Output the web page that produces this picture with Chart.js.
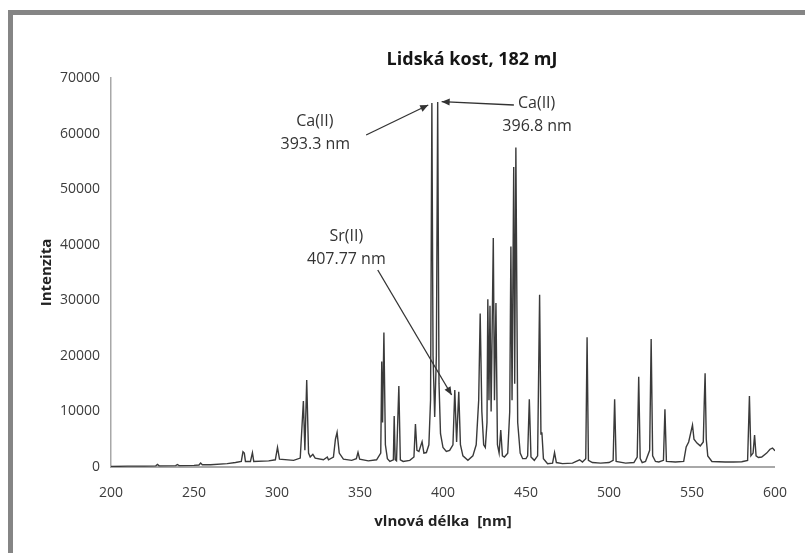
<!DOCTYPE html>
<html><head><meta charset="utf-8">
<script src="https://cdn.jsdelivr.net/npm/chart.js@4.4.1/dist/chart.umd.min.js"></script>
<style>
html,body{margin:0;padding:0;background:#fff;overflow:hidden;}
#wrap{position:relative;width:805px;height:553px;}
#frame{position:absolute;left:8px;top:10px;right:0;bottom:0;border-left:5px solid #858585;border-top:5px solid #858585;pointer-events:none;}
canvas{position:absolute;left:0;top:0;}
</style></head><body>
<div id="wrap"><canvas id="c" width="805" height="553"></canvas><div id="frame"></div></div>
<script>
// ---- data ----
const chartTitle = 'Lidská kost, 182 mJ';
const xTitle = 'vlnová délka  [nm]';
const yTitle = 'Intenzita';
const xTicks = [200, 250, 300, 350, 400, 450, 500, 550, 600];
const yTicks = [0, 10000, 20000, 30000, 40000, 50000, 60000, 70000];

const wavelengths = [
  200, 210, 220, 227, 228, 229, 239, 240, 241, 250, 253, 254, 255, 260, 270, 275, 278.5,
  279.5, 280.3, 281, 284, 285.2, 286, 295, 299, 300.3, 301.5, 310, 314, 315.9, 316.8,
  317.9, 319, 320, 321.6, 323, 328, 330.3, 331, 334, 335.2, 336.2, 337.5, 340, 345, 347.8,
  348.8, 349.8, 355, 360, 362.5, 363.1, 363.6, 364.4, 365.3, 366.5, 368, 370.1, 370.6, 371.2,
  372, 373.4, 374.3, 376, 380, 382.5, 383.4, 384.3, 385.5, 387.4, 388.5, 390, 391.5, 392.5,
  393.3, 394.0, 395.0, 396.0, 396.8, 397.6, 398.5, 400, 402, 404, 406, 407.1, 408.2, 409.5,
  410.5, 412, 415, 418, 420, 421.5, 422.4, 423.4, 424.5, 425.5, 426.5, 427.0, 427.7, 428.3,
  429.0, 430.3, 431.0, 431.9, 432.8, 433.8, 434.8, 435.8, 437, 439, 440.2, 440.9, 441.6,
  442.6, 443.2, 443.9, 445, 446.5, 448, 450, 451, 452.0, 453, 455, 457, 458.2, 459, 459.6,
  460.5, 463, 466, 467.2, 468.3, 472, 478, 482.3, 484, 486, 486.8, 487.6, 490, 495, 500,
  502.5, 503.4, 504.3, 510, 515, 517, 517.9, 518.8, 520, 522, 524.5, 525.4, 526.3, 528, 530,
  532.8, 533.7, 534.6, 540, 545, 546.5, 548, 549.5, 550.3, 551.2, 553, 555, 556.8, 557.4,
  557.9, 558.6, 559.5, 562, 570, 575, 580, 583.5, 584.6, 585.5, 586.8, 587.7, 588.6, 590,
  592, 595, 597, 598.5, 600
];
const intensities = [
  100, 150, 150, 200, 450, 200, 250, 450, 250, 300, 350, 700, 400, 400, 600, 800, 1000,
  2750, 2500, 1000, 1000, 2570, 1000, 1100, 1300, 3540, 1400, 1200, 1600, 11870, 3000,
  15650, 2500, 1800, 2280, 1600, 1300, 1800, 1300, 1800, 5000, 6240, 2500, 1400, 1200, 1500,
  2650, 1400, 1100, 1300, 2500, 19000, 8000, 24200, 4000, 1500, 1000, 1300, 9180, 1300,
  1100, 14580, 1300, 1000, 1200, 1800, 7740, 3000, 2800, 4560, 2500, 2600, 4000, 12000,
  65500, 20000, 9000, 20000, 65700, 15000, 6000, 3500, 2800, 3000, 4000, 13860, 4500, 13550,
  4000, 2000, 1200, 2000, 4000, 12000, 27600, 10000, 4000, 3500, 8000, 30200, 12000, 29000,
  10000, 41200, 12000, 29500, 4000, 2500, 6650, 2000, 1800, 2500, 10000, 39700, 12000,
  54000, 15000, 57500, 8000, 2500, 1500, 1500, 2000, 12180, 1800, 1200, 2000, 31000, 6000, 6060,
  1500, 600, 700, 2580, 800, 600, 700, 1300, 900, 1500, 23340, 1200, 800, 700, 800,
  1200, 12180, 1000, 700, 800, 1800, 16250, 1500, 800, 1000, 3000, 23030, 2000, 1000, 900,
  1200, 10380, 1000, 900, 1000, 3600, 4500, 6500, 7560, 5000, 4300, 3800, 4500, 11750,
  16860, 5000, 2000, 1000, 900, 900, 950, 1200, 12780, 2000, 2500, 5760, 2000, 1700,
  1800, 2500, 3200, 3400, 2900
];

// annotations: text anchors and arrows in data coordinates
const annotations = [
  { texts: [['Ca(II)', 322.8, 62260], ['393.3 nm', 323.1, 58125]], from: [353.7, 59745], to: [391.1, 65140] },
  { texts: [['Ca(II)', 456.4, 65500], ['396.8 nm', 456.7, 61360]], from: [442.7, 65140], to: [399.2, 65740] },
  { texts: [['Sr(II)', 341.8, 41570], ['407.77 nm', 341.8, 37430]], from: [360.7, 35450], to: [405.2, 12960] }
];

const points = wavelengths.map((w, i) => ({ x: w, y: intensities[i] }));

const overlay = {
  id: 'overlay',
  afterDraw(chart) {
    const ctx = chart.ctx, xs = chart.scales.x, ys = chart.scales.y;
    ctx.save();
    // chart title
    ctx.fillStyle = '#151515';
    ctx.font = 'bold 18px "Open Sans"';
    ctx.textAlign = 'center';
    ctx.textBaseline = 'middle';
    ctx.fillText(chartTitle, 472, 60);
    // annotations
    ctx.font = '16px "Open Sans"';
    ctx.fillStyle = '#333';
    ctx.strokeStyle = '#333';
    ctx.lineWidth = 1.3;
    annotations.forEach(a => {
      a.texts.forEach(t => ctx.fillText(t[0], xs.getPixelForValue(t[1]), ys.getPixelForValue(t[2])));
      const x1 = xs.getPixelForValue(a.from[0]), y1 = ys.getPixelForValue(a.from[1]);
      const x2 = xs.getPixelForValue(a.to[0]), y2 = ys.getPixelForValue(a.to[1]);
      ctx.beginPath(); ctx.moveTo(x1, y1); ctx.lineTo(x2, y2); ctx.stroke();
      const ang = Math.atan2(y2 - y1, x2 - x1), L = 8, W = 3.5;
      ctx.beginPath();
      ctx.moveTo(x2, y2);
      ctx.lineTo(x2 - L * Math.cos(ang) + W * Math.sin(ang), y2 - L * Math.sin(ang) - W * Math.cos(ang));
      ctx.lineTo(x2 - L * Math.cos(ang) - W * Math.sin(ang), y2 - L * Math.sin(ang) + W * Math.cos(ang));
      ctx.closePath(); ctx.fill();
    });
    ctx.restore();
  }
};

new Chart(document.getElementById('c'), {
  type: 'line',
  data: { datasets: [{ data: points, borderColor: '#3a3a3a', borderWidth: 1.4, pointRadius: 0, tension: 0, fill: false }] },
  options: {
    responsive: false, animation: false,
    layout: { padding: { top: 78, right: 20, bottom: 0, left: 0 } },
    plugins: { legend: { display: false }, tooltip: { enabled: false }, title: { display: false } },
    scales: {
      x: {
        type: 'linear', min: 200, max: 600,
        afterBuildTicks: s => { s.ticks = xTicks.map(v => ({ value: v })); },
        afterFit: s => { s.height = 86; },
        grid: { display: false, drawTicks: false },
        border: { display: true, color: '#a8a8a8', width: 2 },
        ticks: { padding: 18, color: '#3c3c3c', font: { family: 'Open Sans', size: 14 }, maxRotation: 0, autoSkip: false, callback: v => String(v) },
        title: { display: true, text: xTitle, color: '#222', font: { family: 'Open Sans', size: 15, weight: 'bold' }, padding: { top: 0, bottom: 22 } }
      },
      y: {
        type: 'linear', min: 0, max: 70000,
        afterBuildTicks: s => { s.ticks = yTicks.map(v => ({ value: v })); },
        afterFit: s => { s.width = 111; },
        grid: { display: false, drawTicks: false },
        border: { display: true, color: '#a8a8a8', width: 1.5 },
        ticks: { padding: 11, color: '#3c3c3c', font: { family: 'Open Sans', size: 14 }, callback: v => String(v) },
        title: { display: true, text: yTitle, color: '#222', font: { family: 'Open Sans', size: 15, weight: 'bold' }, padding: { top: 38, bottom: 0 } }
      }
    }
  },
  plugins: [overlay]
});
</script>
</body></html>
